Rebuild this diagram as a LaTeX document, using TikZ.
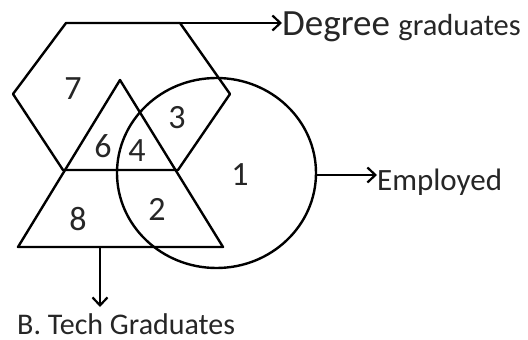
\documentclass[tikz,border=0pt]{standalone}
\usepackage{fontspec}
\setmainfont{Carlito}
\usetikzlibrary{arrows.meta}
\begin{document}
\begin{tikzpicture}[x=1pt,y=-1pt,
  shape line/.style={line width=2.4pt,line join=round},
  arr/.style={line width=2.4pt,-{Straight Barb[length=8pt,width=15pt,line width=2.2pt]}},
  num/.style={font=\fontsize{34}{34}\selectfont,inner sep=0pt,text=black!85},
  lbl/.style={inner sep=0pt,text=black!85}]
\useasboundingbox (0,0) rectangle (528,340);
% hexagon
\coordinate (h1) at (66,23);
\coordinate (h2) at (180,23);
\coordinate (h3) at (230,94);
\coordinate (h4) at (178,170);
\coordinate (h5) at (63,170);
\coordinate (h6) at (13,94);
\draw[shape line] (h1) -- (h2) -- (h3) -- (h4) -- (h5) -- (h6) -- cycle;
% triangle
\coordinate (apex) at (120,80);
\coordinate (tl) at (18,247);
\coordinate (tr) at (223,247);
\draw[shape line] (apex) -- (tl) -- (tr) -- cycle;
% circle
\draw[shape line] (216.5,173) ellipse [x radius=99.5, y radius=95];
\coordinate (cr) at (315,175);
% region numbers
\node[num] (n7) at (73,89) {7};
\node[num] (n3) at (177,118) {3};
\node[num] (n6) at (103,146) {6};
\node[num] (n4) at (137,151) {4};
\node[num] (n1) at (240,175) {1};
\node[num] (n8) at (78,219) {8};
\node[num] (n2) at (157,209) {2};
% labels
\node[lbl,anchor=base west] (deg) at (282,35) {\fontsize{37}{37}\selectfont Degree \fontsize{30.5}{30.5}\selectfont graduates};
\node[lbl,anchor=base west,font=\fontsize{31}{31}\selectfont] (emp) at (377,190) {Employed};
\node[lbl,anchor=base west,font=\fontsize{30}{30}\selectfont] (btech) at (17,334) {B. Tech Graduates};
\coordinate (bt) at (100,248);
% arrows
\draw[arr] (h2) -- (deg.west |- h2);
\draw[arr] (cr) -- (emp.west |- cr);
\draw[arr] (bt) -- (100,307);
\end{tikzpicture}
\end{document}
